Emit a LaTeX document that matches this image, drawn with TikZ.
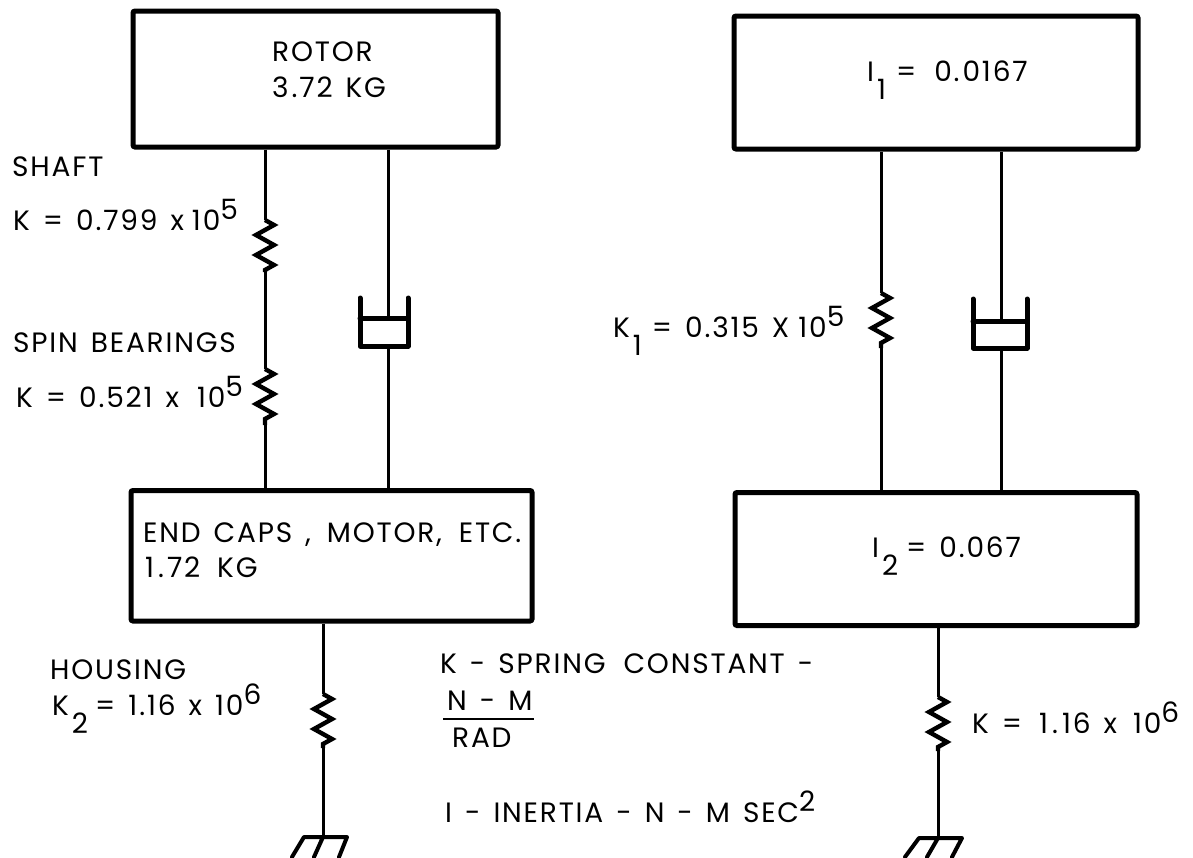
\documentclass[tikz,border=0pt]{standalone}
\usepackage{fontspec}
\setmainfont{Poppins}
\newfontfamily\lblfont[LetterSpace=6.5,WordSpace=1.4]{Poppins}
\usetikzlibrary{decorations.pathmorphing}
\newcommand{\supr}[1]{\raisebox{11pt}{#1}}
\newcommand{\subr}[1]{\kern3pt\raisebox{-18pt}{#1}\kern2pt}
\tikzset{
  massbox/.style={draw,line width=5pt,inner sep=0pt,rounded corners=2pt},
  wire/.style={line width=3pt},
  cupline/.style={line width=5pt,line cap=round,line join=round},
  gndline/.style={line width=4pt,line cap=round,line join=round},
  coil/.style={line width=4.4pt,decorate,decoration={zigzag,segment length=20pt,amplitude=9pt}},
  lbl/.style={anchor=base west,inner sep=0pt,font=\lblfont\fontsize{28}{28}\selectfont},
}
\begin{document}
\begin{tikzpicture}[x=1pt,y=-1pt]
\useasboundingbox (0,0) rectangle (1193,857);
\clip (0,0) rectangle (1193,857);
\node[massbox,minimum width=365pt,minimum height=136pt] (rotor) at (315.5,79) {};
\node[massbox,minimum width=404pt,minimum height=133pt] (i1) at (936,82.5) {};
\node[massbox,minimum width=401pt,minimum height=130.5pt] (caps) at (331.5,555.75) {};
\node[massbox,minimum width=402pt,minimum height=133pt] (i2) at (936,559) {};
% left shaft
\coordinate (a1) at (265,220); \coordinate (a2) at (265,272);
\coordinate (a3) at (265,369); \coordinate (a4) at (265,425);
\draw[wire] (rotor.south -| a1) -- (a1) (a2) -- (a3) (a4) -- (caps.north -| a4);
\draw[coil] (a1) -- (a2);
\draw[coil] (a3) -- (a4);
% left damper
\coordinate (d1) at (388,318); \coordinate (d2) at (388,347);
\draw[wire] (rotor.south -| d1) -- (d1) (d2) -- (caps.north -| d2);
\draw[cupline] (360,298) -- (360,346) -- (408,346) -- (408,298) (360,318) -- (408,318);
% right shaft
\coordinate (b1) at (881,293); \coordinate (b2) at (881,348);
\draw[wire] (i1.south -| b1) -- (b1) (b2) -- (i2.north -| b2);
\draw[coil] (b1) -- (b2);
% right damper
\coordinate (e1) at (1001,320); \coordinate (e2) at (1001,349);
\draw[wire] (i1.south -| e1) -- (e1) (e2) -- (i2.north -| e2);
\draw[cupline] (973,299) -- (973,348) -- (1027,348) -- (1027,299) (973,321) -- (1027,321);
% bottom springs and grounds
\coordinate (c1) at (323,694); \coordinate (c2) at (323,748); \coordinate (g1) at (323,836);
\draw[wire] (caps.south -| c1) -- (c1) (c2) -- (g1);
\draw[coil] (c1) -- (c2);
\draw[gndline] (292,857) -- (304,837) -- (347,837) -- (339,857) (323,837) -- (314,857);
\coordinate (f1) at (938,697); \coordinate (f2) at (938,751); \coordinate (g2) at (938,838);
\draw[wire] (i2.south -| f1) -- (f1) (f2) -- (g2);
\draw[coil] (f1) -- (f2);
\draw[gndline] (905,857) -- (919,838) -- (962,838) -- (952,857) (938,838) -- (927,857);
% labels
\node[lbl] (t1) at (272,61) {ROTOR};
\node[lbl] (t2) at (272,97) {3\kern3pt.72 KG};
\node[lbl] (t3) at (867,81) {I\subr{1}\kern8pt= \kern5pt0.\kern3pt0167};
\node[lbl] (t4) at (12,176) {SHAFT};
\node[lbl] (t5) at (13,230) {K = 0.799 x \kern-5pt10\supr{5}};
\node[lbl] (t6) at (13,352) {SPIN BEARINGS};
\node[lbl] (t7) at (16,407) {K = 0.521 x \kern5pt10\supr{5}};
\node[lbl] (t8) at (613,337) {K\subr{1}\kern8pt= 0.315 X \kern-4pt10\supr{5}};
\node[lbl] (t9) at (143,542) {END CAPS , \kern3ptMOTOR, \kern4ptETC.};
\node[lbl] (t10) at (145,577) {1\kern4pt.\kern3pt72 \kern4ptKG};
\node[lbl] (t11) at (872,557) {I\subr{2}\kern6pt= 0.067};
\node[lbl] (t12) at (50,679) {HOUSING};
\node[lbl] (t13) at (52,715) {K\subr{2}\kern5pt= 1\kern2pt.\kern2pt16 x 10\supr{6}};
\node[lbl] (t14) at (440,673) {K - SPRING \kern5ptCONSTANT -};
\node[lbl] (t15) at (447,710) {N - M};
\node[lbl] (t16) at (452,747) {RAD};
\draw[line width=2.5pt] (443,719) -- (534,719);
\node[lbl] (t17) at (445,822) {I - INERTIA - N - M SEC\supr{2}};
\node[lbl] (t18) at (972,733) {K = \kern4pt1\kern4pt.\kern4pt16 x \kern3pt10\supr{6}};
\end{tikzpicture}
\end{document}
